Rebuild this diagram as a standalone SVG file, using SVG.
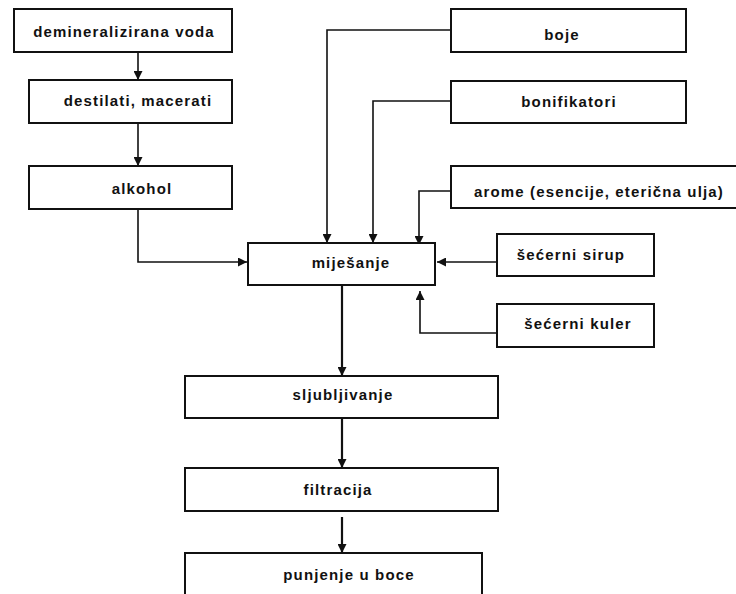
<svg xmlns="http://www.w3.org/2000/svg" width="736" height="594" viewBox="0 0 736 594">
<style>
.box{fill:#fff;stroke:#111;stroke-width:2}
.t{font-family:"Liberation Sans",Arial,sans-serif;font-weight:bold;font-size:15px;letter-spacing:1.15px;fill:#111;text-anchor:middle}
.c{fill:none;stroke:#111;stroke-width:1.6}
.m{stroke-width:2.2}
</style>
<defs>
<marker id="ah" viewBox="0 0 10 10" refX="10" refY="5" markerWidth="9" markerHeight="9" markerUnits="userSpaceOnUse" orient="auto">
<path d="M0,0 L10,5 L0,10 z" fill="#111"/>
</marker>
</defs>
<rect width="736" height="594" fill="#fff"/>
<g id="connectors">
<path class="c" d="M138,52 V80" marker-end="url(#ah)"/>
<path class="c" d="M138,123 V166" marker-end="url(#ah)"/>
<path class="c" d="M138,209 V262 H247" marker-end="url(#ah)"/>
<path class="c" d="M451,30 H327 V243" marker-end="url(#ah)"/>
<path class="c" d="M451,101 H373 V243" marker-end="url(#ah)"/>
<path class="c" d="M451,191 H419 V245" marker-end="url(#ah)"/>
<path class="c" d="M497,262 H437" marker-end="url(#ah)"/>
<path class="c" d="M497,333 H420 V291" marker-end="url(#ah)"/>
<path class="c m" d="M342,285 V376" marker-end="url(#ah)"/>
<path class="c m" d="M342,418 V468" marker-end="url(#ah)"/>
<path class="c m" d="M342,517 V553" marker-end="url(#ah)"/>
</g>
<g id="n-demineralizirana-voda"><rect class="box" x="14" y="9" width="218" height="43"/><text class="t" x="124" y="37">demineralizirana voda</text></g>
<g id="n-destilati"><rect class="box" x="29" y="80" width="203" height="43"/><text class="t" x="138" y="106">destilati, macerati</text></g>
<g id="n-alkohol"><rect class="box" x="29" y="166" width="203" height="43"/><text class="t" x="142" y="194">alkohol</text></g>
<g id="n-boje"><rect class="box" x="451" y="9" width="235" height="43"/><text class="t" x="562" y="40">boje</text></g>
<g id="n-bonifikatori"><rect class="box" x="451" y="81" width="235" height="42"/><text class="t" x="569" y="107">bonifikatori</text></g>
<g id="n-arome"><rect class="box" x="451" y="166" width="290" height="42"/><text class="t" x="599" y="197">arome (esencije, eterična ulja)</text></g>
<g id="n-sirup"><rect class="box" x="497" y="234" width="157" height="42"/><text class="t" x="571" y="260">šećerni sirup</text></g>
<g id="n-kuler"><rect class="box" x="497" y="304" width="157" height="43"/><text class="t" x="578" y="329">šećerni kuler</text></g>
<g id="n-mijesanje"><rect class="box" x="248" y="243" width="187" height="42"/><text class="t" x="351" y="268">miješanje</text></g>
<g id="n-sljubljivanje"><rect class="box" x="185" y="376" width="313" height="42"/><text class="t" x="343" y="400">sljubljivanje</text></g>
<g id="n-filtracija"><rect class="box" x="185" y="468" width="313" height="43"/><text class="t" x="338" y="495">filtracija</text></g>
<g id="n-punjenje"><rect class="box" x="185" y="553" width="297" height="50"/><text class="t" x="349" y="580">punjenje u boce</text></g>
</svg>
